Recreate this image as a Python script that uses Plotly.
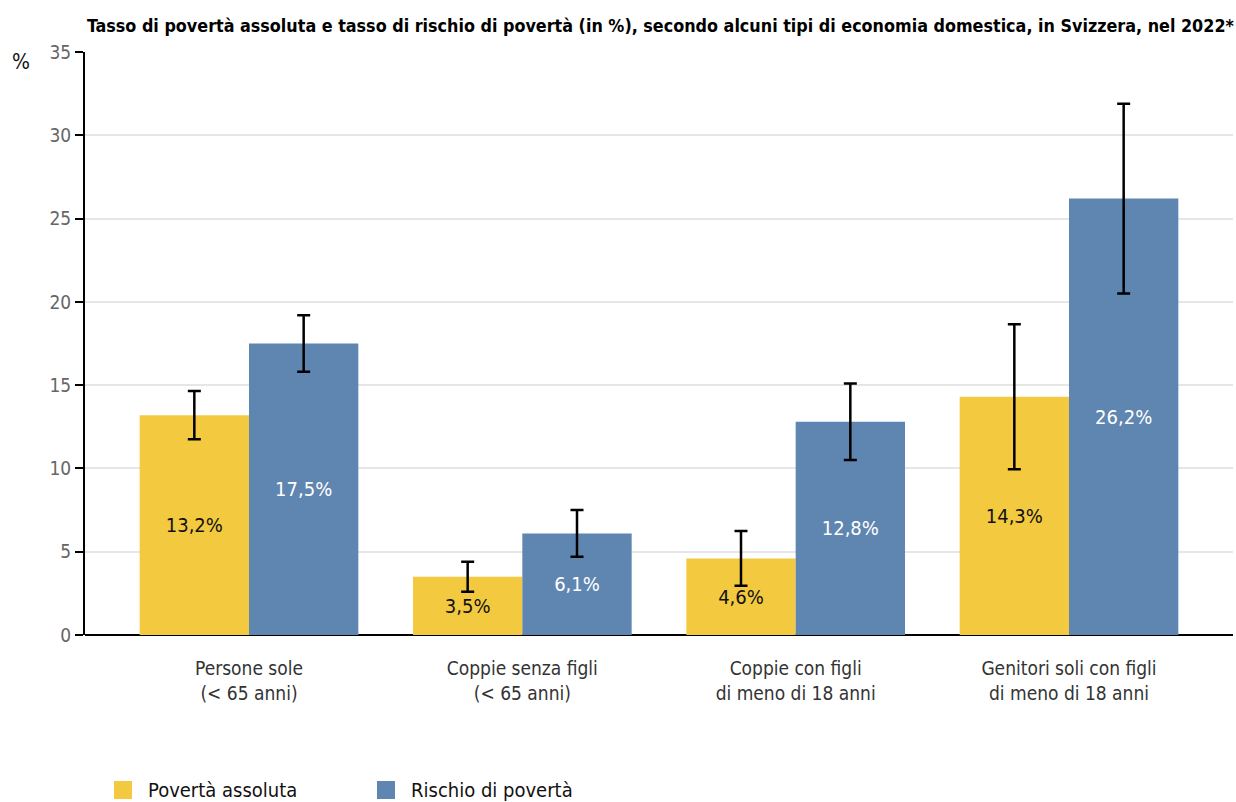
import plotly.graph_objects as go

categories = [
    "Persone sole<br>(< 65 anni)",
    "Coppie senza figli<br>(< 65 anni)",
    "Coppie con figli<br>di meno di 18 anni",
    "Genitori soli con figli<br>di meno di 18 anni",
]
poverta_assoluta = [13.2, 3.5, 4.6, 14.3]
poverta_assoluta_err = [1.45, 0.9, 1.65, 4.35]
rischio_poverta = [17.5, 6.1, 12.8, 26.2]
rischio_poverta_err = [1.7, 1.4, 2.3, 5.7]
y_ticks = [0, 5, 10, 15, 20, 25, 30, 35]
series_names = ["Povertà assoluta", "Rischio di povertà"]

YELLOW = "#f3c93f"
BLUE = "#5f86b0"
FONT = "'DejaVu Sans Condensed', 'Liberation Sans Narrow', sans-serif"


def fmt(v):
    return f"{v:.1f}".replace(".", ",") + "%"


x = list(range(len(categories)))
fig = go.Figure()

series = [
    (series_names[0], poverta_assoluta, poverta_assoluta_err, YELLOW, "#111111"),
    (series_names[1], rischio_poverta, rischio_poverta_err, BLUE, "#ffffff"),
]
for name, vals, errs, color, txtcolor in series:
    fig.add_trace(go.Bar(
        x=x, y=vals, name=name, showlegend=False,
        marker=dict(color=color, line=dict(width=0)),
        text=[fmt(v) for v in vals],
        textposition="inside", insidetextanchor="middle",
        textfont=dict(family=FONT, size=20, color=txtcolor),
        constraintext="none",
        error_y=dict(type="data", array=errs, visible=True,
                     color="#000000", thickness=2.5, width=6.5),
    ))

# legend below the chart: coloured square + label per series
shapes = []
annotations = []
legend_x = [114, 377]
for (name, _, _, color, _), lx in zip(series, legend_x):
    shapes.append(dict(
        type="rect", xref="paper", yref="paper",
        x0=(lx - 85) / 1148, x1=(lx + 18 - 85) / 1148,
        y0=(635 - 799) / 583, y1=(635 - 781) / 583,
        fillcolor=color, line=dict(width=0),
    ))
    annotations.append(dict(
        text=name, xref="paper", yref="paper",
        x=(lx + 32 - 85) / 1148, y=(635 - 790) / 583,
        xanchor="left", yanchor="middle", showarrow=False,
        font=dict(family=FONT, size=20, color="#111111"),
    ))

annotations.append(dict(
    text="%", xref="paper", yref="paper", x=-0.056, y=0.983,
    xanchor="center", yanchor="middle", showarrow=False,
    font=dict(family=FONT, size=21, color="#111111"),
))

fig.update_layout(
    width=1236, height=802,
    margin=dict(l=85, r=3, t=52, b=167),
    paper_bgcolor="white", plot_bgcolor="white",
    barmode="group", bargap=0.2, bargroupgap=0,
    showlegend=False,
    font=dict(family=FONT, size=19, color="#333333"),
    title=dict(
        text="<b>Tasso di povertà assoluta e tasso di rischio di povertà (in %), secondo alcuni tipi di economia domestica, in Svizzera, nel 2022*</b>",
        x=0.0703, xanchor="left", y=0.968, yanchor="middle",
        font=dict(family=FONT, size=17.8, color="#000000"),
    ),
    xaxis=dict(
        range=[-0.6, 3.6], tickmode="array", tickvals=x, ticktext=categories,
        showgrid=False, zeroline=False, showline=False, ticks="",
        ticklabelstandoff=20,
        tickfont=dict(family=FONT, size=19, color="#333333"),
        fixedrange=True,
    ),
    yaxis=dict(
        range=[0, 35], tickmode="array", tickvals=y_ticks,
        showgrid=True, gridcolor="#e6e6e6", gridwidth=2,
        zeroline=True, zerolinecolor="#000000", zerolinewidth=2,
        showline=True, linecolor="#000000", linewidth=2,
        ticks="outside", ticklen=8, tickwidth=2, tickcolor="#000000",
        tickfont=dict(family=FONT, size=19, color="#666666"),
        fixedrange=True,
    ),
    shapes=shapes,
    annotations=annotations,
)

fig.write_html("out.html")
